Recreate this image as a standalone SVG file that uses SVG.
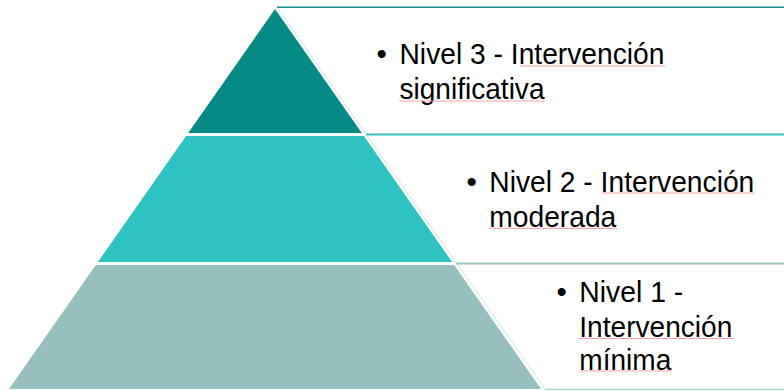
<svg xmlns="http://www.w3.org/2000/svg" width="784" height="391" viewBox="0 0 784 391">
<style>
.t{font-family:"Liberation Sans",Arial,sans-serif;font-size:29.5px;fill:#000}
.sq{stroke:#f2a3a3;stroke-width:1;fill:none}
.edge{stroke:#c6eae8;stroke-width:1;fill:none}
</style>
<rect width="784" height="391" fill="#ffffff"/>
<g id="connectors">
<line class="edge" x1="277.5" y1="8" x2="545" y2="389"/>
</g>
<g id="level3">
<polygon points="275,9 361.8,133 188.2,133" fill="#068a86"/>
<line x1="277" y1="7.3" x2="784" y2="7.3" stroke="#1a8e8a" stroke-width="1.6"/>
<text class="t" x="376.5" y="64.3">•</text>
<text class="t" x="399.5" y="64.3" textLength="265" lengthAdjust="spacingAndGlyphs">Nivel 3 - Intervención</text>
<text class="t" x="399.5" y="98.5" textLength="145" lengthAdjust="spacingAndGlyphs">significativa</text>
<line class="sq" x1="520" y1="66" x2="665" y2="66"/>
<line class="sq" x1="399" y1="101" x2="545" y2="101"/>
</g>
<g id="level2">
<polygon points="186.1,136 363.9,136 452.1,262 97.9,262" fill="#2ec3c0"/>
<line x1="366" y1="134.5" x2="784" y2="134.5" stroke="#3bc5c2" stroke-width="1.8"/>
<text class="t" x="466.5" y="191.7">•</text>
<text class="t" x="489.3" y="191.7" textLength="265" lengthAdjust="spacingAndGlyphs">Nivel 2 - Intervención</text>
<text class="t" x="489.3" y="226.5" textLength="127" lengthAdjust="spacingAndGlyphs">moderada</text>
<line class="sq" x1="602" y1="193" x2="755" y2="193"/>
<line class="sq" x1="489" y1="228.5" x2="617" y2="228.5"/>
</g>
<g id="level1">
<polygon points="95.8,265 454.2,265 541,389 9,389" fill="#96bfbe"/>
<line x1="456" y1="263.5" x2="784" y2="263.5" stroke="#9cc4c3" stroke-width="1.8"/>
<line x1="545" y1="389.5" x2="784" y2="389.5" stroke="#a8d6d3" stroke-width="1.6"/>
<text class="t" x="556.5" y="302.3">•</text>
<text class="t" x="579.3" y="302.3" textLength="104" lengthAdjust="spacingAndGlyphs">Nivel 1 -</text>
<text class="t" x="579.3" y="336.7" textLength="153" lengthAdjust="spacingAndGlyphs">Intervención</text>
<text class="t" x="579.3" y="370" textLength="92" lengthAdjust="spacingAndGlyphs">mínima</text>
<line class="sq" x1="579" y1="338.5" x2="733" y2="338.5"/>
<line class="sq" x1="579" y1="371" x2="672" y2="371"/>
</g>
</svg>
